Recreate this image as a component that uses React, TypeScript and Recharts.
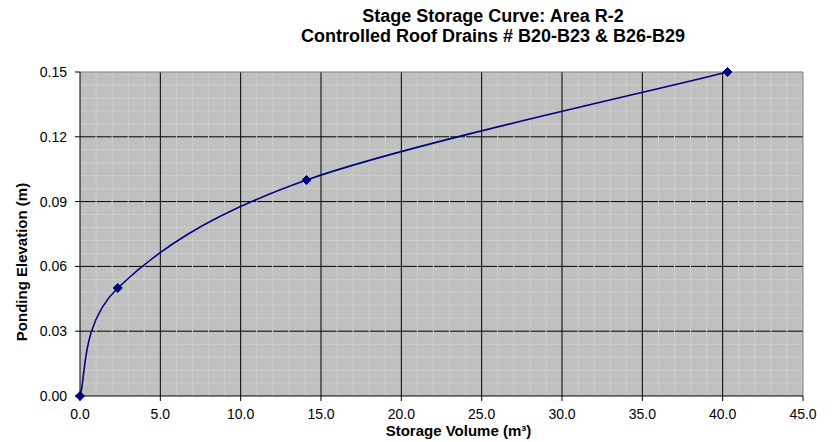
import React from "react";
import {
  LineChart,
  Line,
  XAxis,
  YAxis,
  CartesianGrid,
  ReferenceLine,
} from "recharts";

// stage-storage points
const volumes = [0, 2.35, 14.1, 40.3];
const elevations = [0, 0.05, 0.1, 0.15];

const xTicks = [0, 5, 10, 15, 20, 25, 30, 35, 40, 45];
const yTicks = [0, 0.03, 0.06, 0.09, 0.12, 0.15];

// minor gridlines: every 1.0 on x, every 0.006 on y (majors left out)
const xMinor = Array.from({ length: 46 }, (_, i) => i).filter((i) => i % 5 !== 0);
const yMinor = Array.from({ length: 26 }, (_, i) => i)
  .filter((i) => i % 5 !== 0)
  .map((i) => +(i * 0.006).toFixed(3));

const data = volumes.map((v, i) => ({ x: v, y: elevations[i] }));

const font = '"Liberation Sans", Arial, sans-serif';

// Excel-style smoothed line (catmull-rom through the points)
function excelSmooth(context: any) {
  let pts: number[][] = [];
  return {
    areaStart() {},
    areaEnd() {},
    lineStart() {
      pts = [];
    },
    point(x: number, y: number) {
      pts.push([+x, +y]);
    },
    lineEnd() {
      const n = pts.length;
      if (!n) return;
      context.moveTo(pts[0][0], pts[0][1]);
      for (let i = 0; i < n - 1; i++) {
        const p0 = pts[Math.max(i - 1, 0)];
        const p1 = pts[i];
        const p2 = pts[i + 1];
        const p3 = pts[Math.min(i + 2, n - 1)];
        context.bezierCurveTo(
          p1[0] + (p2[0] - p0[0]) / 6,
          p1[1] + (p2[1] - p0[1]) / 6,
          p2[0] - (p3[0] - p1[0]) / 6,
          p2[1] - (p3[1] - p1[1]) / 6,
          p2[0],
          p2[1]
        );
      }
    },
  };
}

const Diamond = (props: any) => {
  const { cx, cy, index } = props;
  if (cx == null || cy == null) return null;
  const s = 4.5;
  return (
    <polygon
      key={index}
      points={`${cx},${cy - s} ${cx + s},${cy} ${cx},${cy + s} ${cx - s},${cy}`}
      fill="#000080"
      stroke="#000080"
      strokeWidth={1}
    />
  );
};

export default function App() {
  return (
    <div style={{ position: "absolute", left: 0, top: 0, width: 836, height: 442, background: "#fff", fontFamily: font }}>
      <div
        style={{
          position: "absolute",
          left: 293,
          top: 5.5,
          width: 400,
          textAlign: "center",
          fontWeight: "bold",
          fontSize: 18,
          lineHeight: "20px",
          color: "#000",
        }}
      >
        <div>Stage Storage Curve: Area R-2</div>
        <div>Controlled Roof Drains # B20-B23 &amp; B26-B29</div>
      </div>
      <LineChart
        width={836}
        height={442}
        data={data}
        margin={{ top: 72, right: 33, bottom: 0, left: 0 }}
        style={{ fontFamily: font }}
      >
        <CartesianGrid
          fill="#c0c0c0"
          fillOpacity={1}
          stroke="#000"
          vertical={false}
          horizontalValues={[0.03, 0.06, 0.09, 0.12]}
        />
        <CartesianGrid stroke="#cdcdcd" horizontalValues={yMinor} verticalValues={xMinor} />
        <CartesianGrid
          stroke="#000"
          horizontal={false}
          verticalValues={[5, 10, 15, 20, 25, 30, 35, 40]}
        />
        <ReferenceLine y={0.15} stroke="#808080" />
        <ReferenceLine x={45} stroke="#808080" />
        <XAxis
          dataKey="x"
          type="number"
          domain={[0, 45]}
          ticks={xTicks}
          interval={0}
          height={46}
          tickSize={5}
          tickMargin={8}
          stroke="#000"
          tick={{ fill: "#000", fontSize: 14, fontFamily: font }}
          tickFormatter={(v: number) => v.toFixed(1)}
          label={{
            content: ({ viewBox }: any) => (
              <text
                x={viewBox.x + viewBox.width / 2 + 17}
                y={viewBox.y + 40}
                textAnchor="middle"
                fontWeight="bold"
                fontSize={15}
                fontFamily={font}
                fill="#000"
              >
                Storage Volume (m³)
              </text>
            ),
          }}
        />
        <YAxis
          dataKey="y"
          type="number"
          domain={[0, 0.15]}
          ticks={yTicks}
          interval={0}
          width={80}
          tickSize={5}
          tickMargin={8}
          stroke="#000"
          tick={{ fill: "#000", fontSize: 14, fontFamily: font }}
          tickFormatter={(v: number) => v.toFixed(2)}
          label={{
            content: ({ viewBox }: any) => {
              const cx = 27;
              const cy = viewBox.y + viewBox.height / 2 + 28;
              return (
                <text
                  x={cx}
                  y={cy}
                  transform={`rotate(-90 ${cx} ${cy})`}
                  textAnchor="middle"
                  fontWeight="bold"
                  fontSize={15}
                  fontFamily={font}
                  fill="#000"
                >
                  Ponding Elevation (m)
                </text>
              );
            },
          }}
        />
        <Line
          dataKey="y"
          type={excelSmooth as any}
          stroke="#000080"
          strokeWidth={1.6}
          dot={Diamond}
          activeDot={false}
          isAnimationActive={false}
        />
      </LineChart>
    </div>
  );
}
